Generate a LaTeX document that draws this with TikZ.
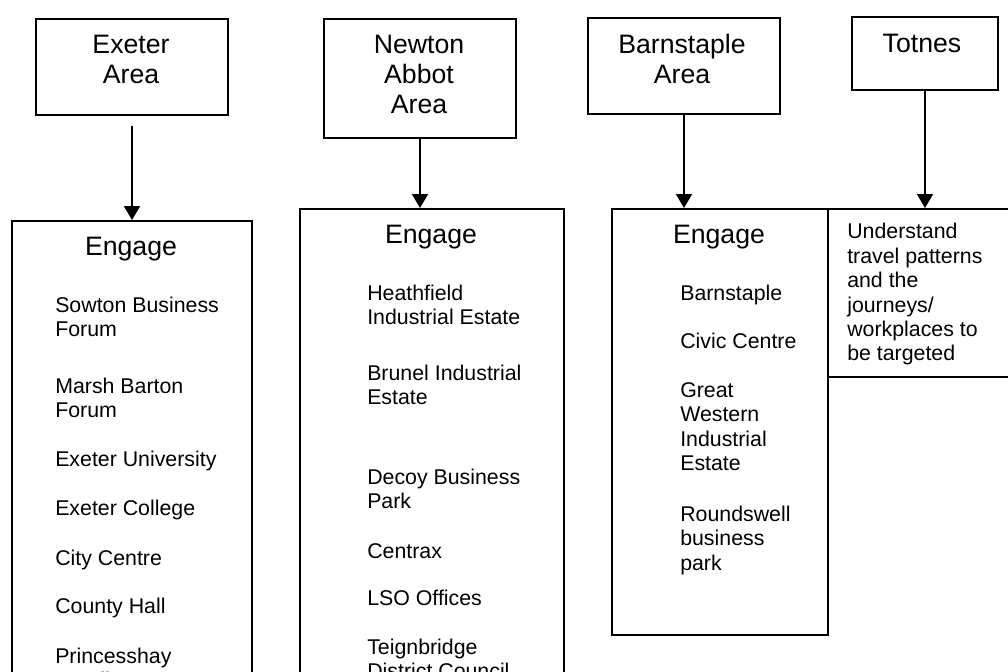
\documentclass[tikz,border=0pt]{standalone}
\usepackage{fontspec}
\setmainfont{Liberation Sans}
\usetikzlibrary{arrows.meta}
\begin{document}
\begin{tikzpicture}[x=0.75pt,y=-0.75pt,
  box/.style={draw,line width=1.5pt,inner sep=0pt,anchor=north west},
  head/.style={font=\fontsize{20}{22.5}\selectfont,inner sep=0pt,anchor=base},
  item/.style={font=\fontsize{16}{18}\selectfont,inner sep=0pt,anchor=base west},
  arr/.style={line width=1.5pt,-{Triangle[length=10.5pt,width=12pt]}}]
\useasboundingbox (0,0) rectangle (1008,672);
\clip (0,0) rectangle (1008,672);
% top boxes
\node[box,minimum width=144pt,minimum height=72pt] (exA) at (35,18) {};
\node[box,minimum width=144pt,minimum height=89.25pt] (naA) at (323,18) {};
\node[box,minimum width=144pt,minimum height=72pt] (baA) at (587,17) {};
\node[box,minimum width=109.5pt,minimum height=54.75pt] (toA) at (851,16) {};
% lower boxes
\node[box,minimum width=180pt,minimum height=400pt] (exE) at (11,220) {};
\node[box,minimum width=198pt,minimum height=400pt] (naE) at (299,208) {};
\node[box,minimum width=162pt,minimum height=319.5pt] (baE) at (611,208) {};
\node[box,minimum width=160pt,minimum height=126pt] (toE) at (827,208) {};
% arrows
\draw[arr] ([yshift=-7.5pt]exA.south) -- (exE.north);
\draw[arr] (naA.south) -- (naA.south |- naE.north);
\draw[arr] (baA.south) -- (baA.south |- baE.north);
\draw[arr] (toA.south) -- (toA.south |- toE.north);
% top box texts
\node[head] (t1) at (131,53) {Exeter};
\node[head] (t2) at (131,83) {Area};
\node[head] (t3) at (419,53) {Newton};
\node[head] (t4) at (419,83) {Abbot};
\node[head] (t5) at (419,113) {Area};
\node[head] (t6) at (682,53) {Barnstaple};
\node[head] (t7) at (682,83) {Area};
\node[head] (t8) at (922,52) {Totnes};
% Engage headings
\node[head] (g1) at (131,255) {Engage};
\node[head] (g2) at (431,243) {Engage};
\node[head] (g3) at (719,243) {Engage};
% Exeter items
\node[item] (e1) at (55,312) {Sowton Business};
\node[item] (e1b) at (55,336) {Forum};
\node[item] (e2) at (55,393) {Marsh Barton};
\node[item] (e2b) at (55,417) {Forum};
\node[item] (e3) at (55,466) {Exeter University};
\node[item] (e4) at (55,515) {Exeter College};
\node[item] (e5) at (55,565) {City Centre};
\node[item] (e6) at (55,613) {County Hall};
\node[item] (e7) at (55,663) {Princesshay};
\node[item] (e7b) at (55,687) {Retail};
% Newton items
\node[item] (n1) at (367,300) {Heathfield};
\node[item] (n1b) at (367,324) {Industrial Estate};
\node[item] (n2) at (367,380) {Brunel Industrial};
\node[item] (n2b) at (367,404) {Estate};
\node[item] (n3) at (367,484) {Decoy Business};
\node[item] (n3b) at (367,508) {Park};
\node[item] (n4) at (367,558) {Centrax};
\node[item] (n5) at (367,605) {LSO Offices};
\node[item] (n6) at (367,654) {Teignbridge};
\node[item] (n6b) at (367,678) {District Council};
% Barnstaple items
\node[item] (b1) at (680,300) {Barnstaple};
\node[item] (b2) at (680,348) {Civic Centre};
\node[item] (b3) at (680,397) {Great};
\node[item] (b3b) at (680,421) {Western};
\node[item] (b3c) at (680,446) {Industrial};
\node[item] (b3d) at (680,470) {Estate};
\node[item] (b4) at (680,521) {Roundswell};
\node[item] (b4b) at (680,545) {business};
\node[item] (b4c) at (680,570) {park};
% Totnes text
\node[item] (u1) at (847,238) {Understand};
\node[item] (u2) at (847,263) {travel patterns};
\node[item] (u3) at (847,287) {and the};
\node[item] (u4) at (847,312) {journeys/};
\node[item] (u5) at (847,336) {workplaces to};
\node[item] (u6) at (847,360) {be targeted};
\end{tikzpicture}
\end{document}
